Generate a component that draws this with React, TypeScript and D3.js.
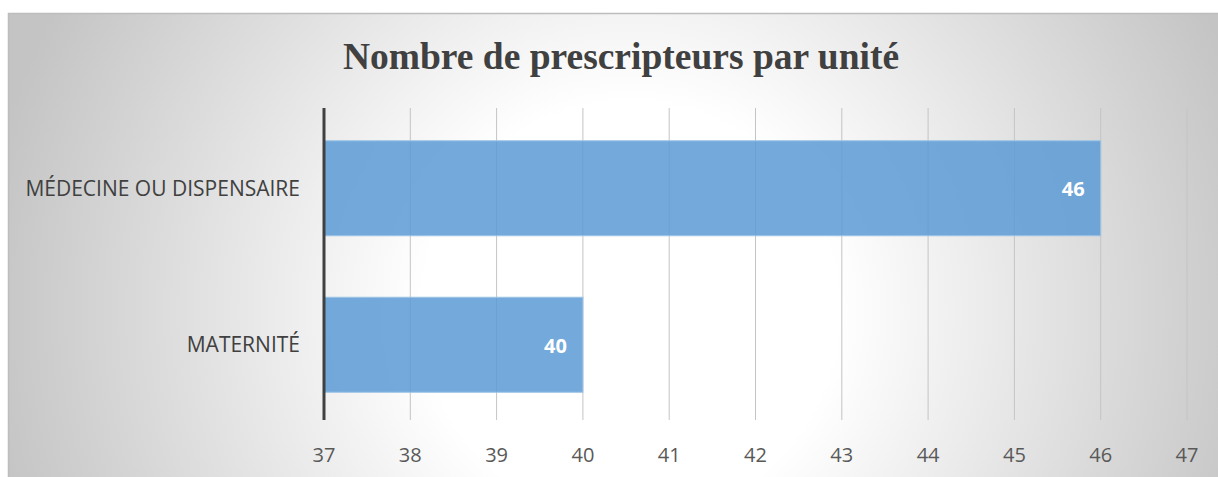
import React from "react";
import * as d3 from "d3";

const categories = ["MÉDECINE OU DISPENSAIRE", "MATERNITÉ"];
const values = [46, 40];
const xTicks = [37, 38, 39, 40, 41, 42, 43, 44, 45, 46, 47];
const title = "Nombre de prescripteurs par unité";

const W = 1218;
const H = 477;

export default function App() {
  const x = d3.scaleLinear().domain([37, 47]).range([324, 1187]);
  const y = d3
    .scaleBand<string>()
    .domain(categories)
    .range([110, 423])
    .paddingInner(0.393)
    .paddingOuter(0.1965);
  const plotTop = 108;
  const plotBottom = 420;
  const labelFont = "'Open Sans', 'Noto Sans', sans-serif";

  return (
    <svg
      width={W}
      height={H}
      style={{ position: "absolute", left: 0, top: 0 }}
    >
      <defs>
        <radialGradient
          id="bg"
          gradientUnits="userSpaceOnUse"
          cx={630}
          cy={310}
          r={650}
          fx={630}
          fy={310}
        >
          <stop offset="0" stopColor="#ffffff" />
          <stop offset="0.32" stopColor="#ffffff" />
          <stop offset="1" stopColor="#c4c4c4" />
        </radialGradient>
      </defs>
      <rect x={0} y={0} width={W} height={H} fill="#ffffff" />
      <rect
        x={8.5}
        y={13.5}
        width={W + 10}
        height={H + 10}
        fill="url(#bg)"
        stroke="#bdbdbd"
        strokeWidth={1.5}
      />
      <text
        x={621}
        y={69}
        textAnchor="middle"
        fontFamily="'Liberation Serif', 'Times New Roman', serif"
        fontWeight="bold"
        fontSize={37.5}
        fill="#404040"
      >
        {title}
      </text>
      {xTicks.map((t) =>
        t === 37 ? null : (
          <line
            key={"g" + t}
            x1={x(t)}
            x2={x(t)}
            y1={plotTop}
            y2={plotBottom}
            stroke="#c4c4c4"
            strokeWidth={1}
          />
        )
      )}
      {categories.map((c, i) => (
        <g key={c}>
          <rect
            x={x(37)}
            y={y(c)!}
            width={x(values[i]) - x(37)}
            height={y.bandwidth()}
            fill="#5b9bd5"
            fillOpacity={0.85}
            stroke="#9dc3e6"
            strokeWidth={1}
          />
          <text
            x={x(values[i]) - 16}
            y={y(c)! + y.bandwidth() / 2 + 1}
            dy="0.35em"
            textAnchor="end"
            fontFamily={labelFont}
            fontWeight="bold"
            fontSize={20}
            fill="#ffffff"
          >
            {values[i]}
          </text>
          <text
            x={300}
            y={y(c)! + y.bandwidth() / 2}
            dy="0.35em"
            textAnchor="end"
            fontFamily={labelFont}
            fontSize={21}
            fill="#404040"
          >
            {c}
          </text>
        </g>
      ))}
      <line
        x1={x(37)}
        x2={x(37)}
        y1={plotTop}
        y2={plotBottom}
        stroke="#404040"
        strokeWidth={3}
      />
      {xTicks.map((t) => (
        <text
          key={"t" + t}
          x={x(t)}
          y={462}
          textAnchor="middle"
          fontFamily={labelFont}
          fontSize={20}
          fill="#595959"
        >
          {t}
        </text>
      ))}
    </svg>
  );
}
